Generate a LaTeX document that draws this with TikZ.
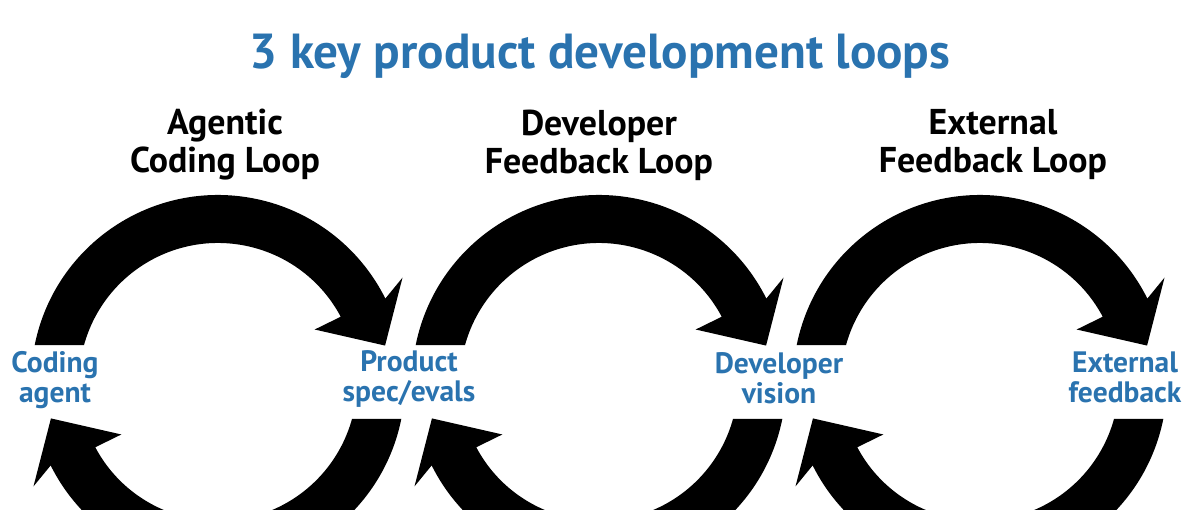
\documentclass[tikz,border=0pt]{standalone}
\usepackage{fontspec}
\setmainfont{PT Sans}
\definecolor{loopblue}{RGB}{42,115,175}
\begin{document}
\begin{tikzpicture}[x=0.025cm,y=0.025cm,
  titletext/.style={font=\fontsize{35}{40}\selectfont\bfseries, text=loopblue},
  loophead/.style={font=\fontsize{25.5}{27}\selectfont\bfseries, align=center, text=black},
  stage/.style={font=\fontsize{21}{21.4}\selectfont\bfseries, align=center, text=loopblue},
  looparrow/.style={fill=black},
  looparc/.pic={
    \fill[looparrow] (168.6:187) arc[start angle=168.6,end angle=26.5,radius=187]
      -- (29.5:212) -- (12.3:171) -- (28.5:110) -- (28:139)
      arc[start angle=28,end angle=164.6,radius=139] -- cycle;
  }]
\useasboundingbox (0,0) rectangle (1200,510);
\clip (0,0) rectangle (1200,510);
\coordinate (ca) at (218,128);
\coordinate (cb) at (599,128);
\coordinate (cc) at (980,128);
\foreach \c in {ca,cb,cc}{
  \pic at (\c) {looparc};
  \pic[rotate=180] at (\c) {looparc};
}
\node[titletext] (title) at (600,454) {3 key product development loops};
\node[loophead] (h1) at (225,365) {Agentic\\Coding Loop};
\node[loophead] (h2) at (599,365) {Developer\\Feedback Loop};
\node[loophead] (h3) at (993,365) {External\\Feedback Loop};
\node[stage] (s1) at (55,130) {Coding\\agent};
\node[stage] (s2) at (409,131) {Product\\spec/evals};
\node[stage] (s3) at (779,132) {Developer\\vision};
\node[stage] (s4) at (1125,133) {External\\feedback};
\end{tikzpicture}
\end{document}
